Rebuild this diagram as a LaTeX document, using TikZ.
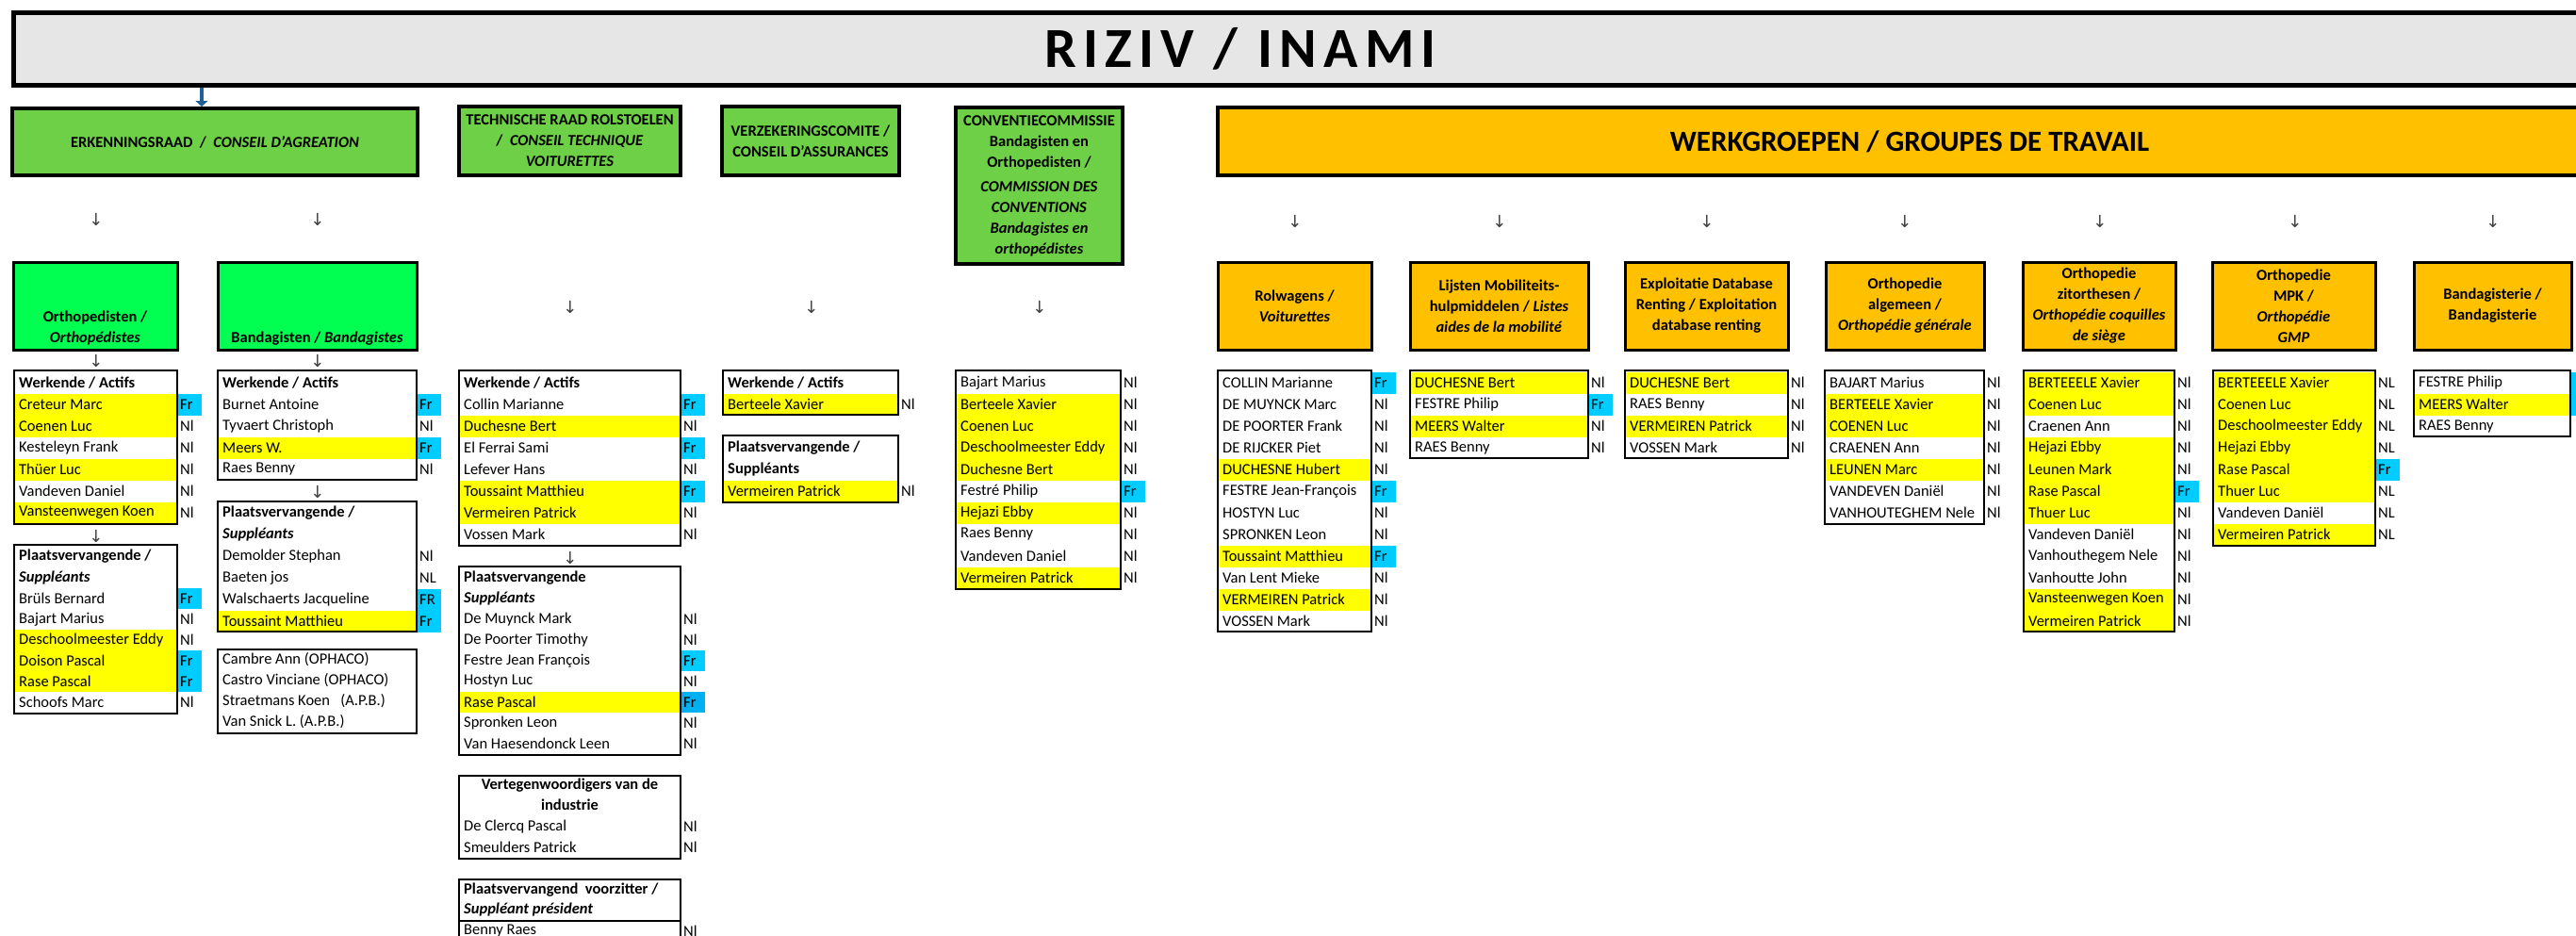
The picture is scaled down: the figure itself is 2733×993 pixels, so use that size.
\documentclass[tikz,border=0pt]{standalone}
\usepackage{fontspec}
\setmainfont{Carlito}
\newfontfamily\titlefont[LetterSpace=12]{Carlito}
\newfontfamily\arrfont{DejaVu Sans}
\usetikzlibrary{arrows.meta,fit}
\definecolor{titlegray}{RGB}{230,230,230}
\definecolor{hdrgreen}{RGB}{110,208,70}
\definecolor{brightgreen}{RGB}{0,255,80}
\definecolor{orng}{RGB}{255,192,0}
\definecolor{yel}{RGB}{255,255,0}
\definecolor{blu}{RGB}{0,204,255}
\definecolor{blutwo}{RGB}{0,176,240}
\definecolor{arrowblue}{RGB}{31,95,155}
\tikzset{
 hdrbox/.style={draw=black, line width=4pt, inner sep=0pt},
 subbox/.style={draw=black, line width=3pt, inner sep=0pt},
 tblbox/.style={draw=black, line width=2.5pt, inner sep=0pt},
 hdrtext/.style={align=center, inner sep=0pt, font=\bfseries\fontsize{16.5}{22}\selectfont},
 namecell/.style={anchor=west, inner sep=0pt, font=\fontsize{16.5}{20}\selectfont},
 headcell/.style={anchor=west, inner sep=0pt, font=\bfseries\fontsize{16.5}{20}\selectfont},
 downarrow/.style={inner sep=0pt, text=black!75, font=\arrfont\fontsize{18}{18}\selectfont},
 bluearr/.style={draw=arrowblue, line width=4pt, -{Triangle[width=13pt,length=6pt]}},
}
\newcommand\tblrows[6]{%
 \foreach \nm/\fl/\lg/\lf [count=\i from 0] in {#6} {
   \pgfmathsetmacro\yy{#4+\i*#5}
   \path[fill=\fl] (#2,\yy-#5/2) rectangle (#3,\yy+#5/2);
   \path[fill=\lf] (#3,\yy-#5/2) rectangle (#3+26,\yy+#5/2);
   \node[namecell] (#1-\i) at (#2+5,\yy) {\nm};
   \node[namecell] (#1-\i-l) at (#3+3,\yy) {\lg};
 }%
}
\begin{document}
\begin{tikzpicture}[x=1pt,y=-1pt]
\useasboundingbox (0,0) rectangle (2733,993);
\clip (0,0) rectangle (2733,993);

% title
\node[draw=black, line width=5pt, fill=titlegray, inner sep=0pt, fit={(14,13) (2800,90)}] (top) {};
\node[inner sep=0pt, font=\titlefont\bfseries\fontsize{60}{60}\selectfont] (toptext) at (1316,52) {RIZIV / INAMI};

% level 1 headers
\node[hdrbox, fill=hdrgreen, fit={(13,115) (443,186)}] (erk) {};
\node[hdrtext] (erkt) at (erk.center) {ERKENNINGSRAAD\ \ /\ \ \textit{CONSEIL D'AGREATION}};
\node[hdrbox, fill=hdrgreen, fit={(487,113) (722,186)}] (tech) {};
\node[hdrtext] (techt) at (tech.center) {TECHNISCHE RAAD ROLSTOELEN\\/\ \ \textit{CONSEIL TECHNIQUE}\\\textit{VOITURETTES}};
\node[hdrbox, fill=hdrgreen, fit={(766,113) (954,186)}] (verz) {};
\node[hdrtext] (verzt) at (verz.center) {VERZEKERINGSCOMITE /\\CONSEIL D'ASSURANCES};
\node[hdrbox, fill=hdrgreen, fit={(1014,114) (1191,280)}] (conv) {};
\node[hdrtext] (convt) at (1102.5,197) {CONVENTIECOMMISSIE\\Bandagisten en\\Orthopedisten /\\[4pt]\textit{COMMISSION DES}\\\textit{CONVENTIONS}\\\textit{Bandagistes en}\\\textit{orthopédistes}};
\node[hdrbox, fill=orng, fit={(1292,114) (2800,186)}] (werk) {};
\node[inner sep=0pt, font=\bfseries\fontsize{31}{31}\selectfont] (werkt) at (2026,150) {WERKGROEPEN / GROUPES DE TRAVAIL};

\coordinate (ba) at ([xshift=-14pt]erk.north);
\draw[bluearr] (ba |- top.south) -- (ba);

% level 2 boxes
\node[subbox, fill=brightgreen, fit={(14,278) (188,371)}] (ortho) {};
\node[hdrtext] (orthot) at (101,348) {Orthopedisten /\\\textit{Orthopédistes}};
\node[subbox, fill=brightgreen, fit={(231,278) (442,371)}] (banda) {};
\node[hdrtext] (bandat) at (336.5,359) {Bandagisten / \textit{Bandagistes}};

\node[subbox, fill=orng, fit={(1292,278) (1455,371)}] (rol) {};
\node[hdrtext] (rolt) at (rol.center) {Rolwagens /\\\textit{Voiturettes}};
\node[subbox, fill=orng, fit={(1496,278) (1685,371)}] (lijst) {};
\node[hdrtext] (lijstt) at (lijst.center) {Lijsten Mobiliteits-\\hulpmiddelen / \textit{Listes}\\\textit{aides de la mobilité}};
\node[subbox, fill=orng, fit={(1724,278) (1897,371)}] (expl) {};
\node[hdrtext] (explt) at (expl.center) {Exploitatie Database\\Renting / Exploitation\\database renting};
\node[subbox, fill=orng, fit={(1937,278) (2105,371)}] (alg) {};
\node[hdrtext] (algt) at (alg.center) {Orthopedie\\algemeen /\\\textit{Orthopédie générale}};
\node[subbox, fill=orng, fit={(2146,278) (2308,371)}] (zit) {};
\node[hdrtext] (zitt) at (zit.center) {Orthopedie\\zitorthesen /\\\textit{Orthopédie coquilles}\\\textit{de siège}};
\node[subbox, fill=orng, fit={(2347,278) (2520,371)}] (mpk) {};
\node[hdrtext] (mpkt) at (mpk.center) {Orthopedie\\MPK /\\\textit{Orthopédie}\\\textit{GMP}};
\node[subbox, fill=orng, fit={(2561,278) (2728,371)}] (bgst) {};
\node[hdrtext] (bgstt) at (bgst.center) {Bandagisterie /\\Bandagisterie};

% down arrows (text)
\node[downarrow] (d1) at (102,233) {↓};
\node[downarrow] (d2) at (337,233) {↓};
\node[downarrow] (d3) at (605,326) {↓};
\node[downarrow] (d4) at (861,326) {↓};
\node[downarrow] (d5) at (1103,326) {↓};
\node[downarrow] (d6) at (1374,235) {↓};
\node[downarrow] (d7) at (1591,235) {↓};
\node[downarrow] (d8) at (1811,235) {↓};
\node[downarrow] (d9) at (2021,235) {↓};
\node[downarrow] (d10) at (2228,235) {↓};
\node[downarrow] (d11) at (2435,235) {↓};
\node[downarrow] (d12) at (2645,235) {↓};
\node[downarrow] (d13) at (102,383) {↓};
\node[downarrow] (d14) at (337,383) {↓};
\node[downarrow] (d15) at (102,569) {↓};
\node[downarrow] (d16) at (337,522) {↓};
\node[downarrow] (d17) at (605,592) {↓};

% ---- tables column A
\tblrows{aa}{15}{188}{429}{23}{Creteur Marc/yel/Fr/blu, Coenen Luc/yel/Nl/none, Kesteleyn Frank/none/Nl/none, Thüer Luc/yel/Nl/none, Vandeven Daniel/none/Nl/none, Vansteenwegen Koen/yel/Nl/none}
\node[tblbox, fit={(15,393) (188,556)}] (ta1) {};
\node[headcell] (ta1h) at (20,406) {Werkende / Actifs};

\tblrows{ab}{15}{188}{635}{22}{Brüls Bernard/none/Fr/blu, Bajart Marius/none/Nl/none, Deschoolmeester Eddy/yel/Nl/none, Doison Pascal/yel/Fr/blu, Rase Pascal/yel/Fr/blu, Schoofs Marc/none/Nl/none}
\node[tblbox, fit={(15,578) (188,757)}] (ta2) {};
\node[headcell] (ta2h) at (20,590) {Plaatsvervangende /};
\node[headcell] (ta2i) at (20,613) {\textit{Suppléants}};

% ---- column B
\tblrows{ba}{231}{442}{429}{23}{Burnet Antoine/none/Fr/blu, Tyvaert Christoph/none/Nl/none, Meers W./yel/Fr/blu, Raes Benny/none/Nl/none}
\node[tblbox, fit={(231,393) (442,509)}] (tb1) {};
\node[headcell] (tb1h) at (236,406) {Werkende / Actifs};

\tblrows{bb}{231}{442}{590}{23}{Demolder Stephan/none/Nl/none, Baeten jos/none/NL/none, Walschaerts Jacqueline/none/FR/blu, Toussaint Matthieu/yel/Fr/blu}
\node[tblbox, fit={(231,532) (442,670)}] (tb2) {};
\node[headcell] (tb2h) at (236,544) {Plaatsvervangende /};
\node[headcell] (tb2i) at (236,567) {\textit{Suppléants}};

\tblrows{bc}{231}{442}{700}{22}{Cambre Ann (OPHACO)/none//none, Castro Vinciane (OPHACO)/none//none, Straetmans Koen\ \ \ (A.P.B.)/none//none, Van Snick L. (A.P.B.)/none//none}
\node[tblbox, fit={(231,689) (442,778)}] (tb3) {};

% ---- column C
\tblrows{ca}{487}{722}{429}{23}{Collin Marianne/none/Fr/blu, Duchesne Bert/yel/Nl/none, El Ferrai Sami/none/Fr/blu, Lefever Hans/none/Nl/none, Toussaint Matthieu/yel/Fr/blu, Vermeiren Patrick/yel/Nl/none, Vossen Mark/none/Nl/none}
\node[tblbox, fit={(487,393) (722,579)}] (tc1) {};
\node[headcell] (tc1h) at (492,406) {Werkende / Actifs};

\tblrows{cb}{487}{722}{657}{22}{De Muynck Mark/none/Nl/none, De Poorter Timothy/none/Nl/none, Festre Jean François/none/Fr/blu, Hostyn Luc/none/Nl/none, Rase Pascal/yel/Fr/blutwo, Spronken Leon/none/Nl/none, Van Haesendonck Leen/none/Nl/none}
\node[tblbox, fit={(487,601) (722,801)}] (tc2) {};
\node[headcell] (tc2h) at (492,613) {Plaatsvervangende};
\node[headcell] (tc2i) at (492,635) {\textit{Suppléants}};

\tblrows{cc}{487}{722}{877}{22}{De Clercq Pascal/none/Nl/none, Smeulders Patrick/none/Nl/none}
\node[tblbox, fit={(487,823) (722,911)}] (tc3) {};
\node[hdrtext] (tc3h) at (604.5,843) {Vertegenwoordigers van de\\industrie};

\node[tblbox, fit={(487,933) (722,977)}] (tc4) {};
\node[headcell] (tc4h) at (492,944) {Plaatsvervangend\ \ voorzitter /};
\node[headcell] (tc4i) at (492,965) {\textit{Suppléant président}};
\tblrows{cd}{487}{722}{988}{22}{Benny Raes/none/Nl/none}
\node[tblbox, fit={(487,977) (722,1020)}] (tc5) {};

% ---- column D
\tblrows{da}{767}{953}{429}{23}{Berteele Xavier/yel/Nl/none}
\node[tblbox, fit={(767,393) (953,440)}] (td1) {};
\node[headcell] (td1h) at (772,406) {Werkende / Actifs};

\tblrows{db}{767}{953}{521}{23}{Vermeiren Patrick/yel/Nl/none}
\node[tblbox, fit={(767,462) (953,533)}] (td2) {};
\node[headcell] (td2h) at (772,475) {Plaatsvervangende /};
\node[headcell] (td2i) at (772,498) {Suppléants};

% ---- column E
\tblrows{ea}{1014}{1189}{406}{23}{Bajart Marius/none/Nl/none, Berteele Xavier/yel/Nl/none, Coenen Luc/yel/Nl/none, Deschoolmeester Eddy/yel/Nl/none, Duchesne Bert/yel/Nl/none, Festré Philip/none/Fr/blu, Hejazi Ebby/yel/Nl/none, Raes Benny/none/Nl/none, Vandeven Daniel/none/Nl/none, Vermeiren Patrick/yel/Nl/none}
\node[tblbox, fit={(1014,393) (1189,625)}] (te1) {};

% ---- werkgroepen tables
\tblrows{ra}{1292}{1455}{406}{23}{COLLIN Marianne/none/Fr/blu, DE MUYNCK Marc/none/Nl/none, DE POORTER Frank/none/Nl/none, DE RIJCKER Piet/none/Nl/none, DUCHESNE Hubert/yel/Nl/none, FESTRE Jean-François/none/Fr/blu, HOSTYN Luc/none/Nl/none, SPRONKEN Leon/none/Nl/none, Toussaint Matthieu/yel/Fr/blu, Van Lent Mieke/none/Nl/none, VERMEIREN Patrick/yel/Nl/none, VOSSEN Mark/none/Nl/none}
\node[tblbox, fit={(1292,393) (1455,670)}] (tr1) {};

\tblrows{la}{1496}{1685}{406}{23}{DUCHESNE Bert/yel/Nl/none, FESTRE Philip/none/Fr/blu, MEERS Walter/yel/Nl/none, RAES Benny/none/Nl/none}
\node[tblbox, fit={(1496,393) (1685,486)}] (tl1) {};

\tblrows{xa}{1724}{1897}{406}{23}{DUCHESNE Bert/yel/Nl/none, RAES Benny/none/Nl/none, VERMEIREN Patrick/yel/Nl/none, VOSSEN Mark/none/Nl/none}
\node[tblbox, fit={(1724,393) (1897,486)}] (tx1) {};

\tblrows{ga}{1936}{2105}{406}{23}{BAJART Marius/none/Nl/none, BERTEELE Xavier/yel/Nl/none, COENEN Luc/yel/Nl/none, CRAENEN Ann/none/Nl/none, LEUNEN Marc/yel/Nl/none, VANDEVEN Daniël/none/Nl/none, VANHOUTEGHEM Nele/none/Nl/none}
\node[tblbox, fit={(1936,393) (2105,556)}] (tg1) {};

\tblrows{za}{2147}{2307}{406}{23}{BERTEEELE Xavier/yel/Nl/none, Coenen Luc/yel/Nl/none, Craenen Ann/none/Nl/none, Hejazi Ebby/yel/Nl/none, Leunen Mark/yel/Nl/none, Rase Pascal/yel/Fr/blu, Thuer Luc/yel/Nl/none, Vandeven Daniël/none/Nl/none, Vanhouthegem Nele/none/Nl/none, Vanhoutte John/none/Nl/none, Vansteenwegen Koen/yel/Nl/none, Vermeiren Patrick/yel/Nl/none}
\node[tblbox, fit={(2147,393) (2307,670)}] (tz1) {};

\tblrows{ma}{2348}{2520}{406}{23}{BERTEEELE Xavier/yel/NL/none, Coenen Luc/yel/NL/none, Deschoolmeester Eddy/yel/NL/none, Hejazi Ebby/yel/NL/none, Rase Pascal/yel/Fr/blu, Thuer Luc/yel/NL/none, Vandeven Daniël/none/NL/none, Vermeiren Patrick/yel/NL/none}
\node[tblbox, fit={(2348,393) (2520,579)}] (tm1) {};

\tblrows{sa}{2561}{2727}{406}{23}{FESTRE Philip/none//blu, MEERS Walter/yel//blu, RAES Benny/none//none}
\node[tblbox, fit={(2561,393) (2727,463)}] (ts1) {};
\end{tikzpicture}
\end{document}
